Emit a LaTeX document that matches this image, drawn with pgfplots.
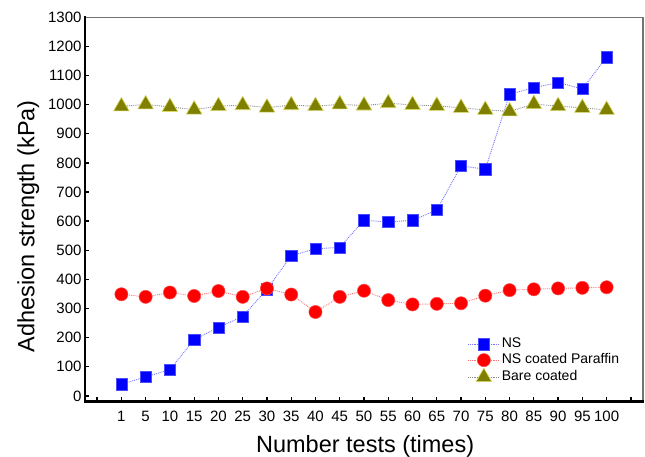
\documentclass[border=0pt]{standalone}
\usepackage{fontspec}
\setmainfont{Liberation Sans}
\usepackage{pgfplots}
\pgfplotsset{compat=1.18}
\definecolor{nsblue}{RGB}{0,0,255}
\definecolor{nsred}{RGB}{255,0,0}
\definecolor{bareolive}{RGB}{128,128,0}
\begin{document}
\begin{tikzpicture}
\path[use as bounding box] (-85pt,-55.3pt) rectangle (560pt,401.7pt);
\begin{axis}[
  at={(0,0)}, anchor=south west,
  width=558pt, height=384.4pt, scale only axis,
  xmin=-1.5, xmax=21.5, ymin=-20, ymax=1300,
  xtick={-1,0,...,21},
  xticklabels={{},1,5,10,15,20,25,30,35,40,45,50,55,60,65,70,75,80,85,90,95,100,{}},
  ytick={0,100,...,1300},
  tick align=inside, xtick pos=bottom, ytick pos=left,
  major tick length=4.5pt,
  tick style={line width=1.3pt, black},
  axis line style={line width=1.2pt, black!55},
  /pgf/number format/assume math mode=true,
  ticklabel style={font=\fontsize{15}{16}\selectfont},
  xticklabel style={anchor=base, yshift=-20pt},
  yticklabel style={/pgf/number format/1000 sep={}},
  every axis x label/.style={at={(rel axis cs:0.502,-0.1316)}, anchor=base},
  every axis y label/.style={at={(rel axis cs:-0.0909,0.456)}, rotate=90, anchor=base},
  xlabel={Number tests (times)},
  ylabel={Adhesion strength (kPa)},
  label style={font=\fontsize{23.5}{26}\selectfont},
  legend style={at={(rel axis cs:0.685,0.171)}, anchor=north west, draw=none, fill=none,
    inner sep=0pt, row sep=0pt, font=\fontsize{14}{15}\selectfont,
    nodes={text height=10pt, text depth=3pt, inner sep=1.5pt}},
  legend cell align=left,
  legend image code/.code={\draw[mark repeat=2,mark phase=2] plot coordinates {(0pt,0pt)(16pt,0pt)(32pt,0pt)};},
  clip=false,
  after end axis/.code={
    \draw[line width=2.6pt, black, line cap=rect] (rel axis cs:0,1) -- (rel axis cs:0,0) -- (rel axis cs:1,0);
  },
]
\addplot[color=nsblue!55, densely dotted, line width=0.9pt,
  mark=square*, mark size=5.6pt, mark options={solid, fill=nsblue, draw=nsblue!70, line width=0.5pt}]
coordinates {(0,40)(1,65)(2,90)(3,193)(4,235)(5,273)(6,366)(7,481)(8,505)(9,510)
(10,603)(11,597)(12,603)(13,638)(14,790)(15,778)(16,1036)(17,1058)(18,1076)(19,1054)(20,1163)};
\addlegendentry{NS}
\addplot[color=nsred!55, densely dotted, line width=0.9pt,
  mark=*, mark size=6.6pt, mark options={solid, fill=nsred, draw=nsred!70, line width=0.5pt}]
coordinates {(0,349)(1,340)(2,355)(3,343)(4,360)(5,340)(6,369)(7,348)(8,288)(9,340)
(10,361)(11,329)(12,314)(13,316)(14,318)(15,344)(16,363)(17,366)(18,369)(19,371)(20,373)};
\addlegendentry{NS coated Paraffin}
\addplot[color=black!45, densely dotted, line width=0.9pt,
  mark=triangle*, mark size=9pt, mark options={solid, fill=bareolive, draw=bareolive!50!yellow!60!white, line width=0.6pt}]
coordinates {(0,994)(1,1001)(2,992)(3,983)(4,995)(5,998)(6,990)(7,998)(8,995)(9,1001)
(10,997)(11,1005)(12,999)(13,996)(14,989)(15,982)(16,977)(17,1002)(18,995)(19,989)(20,982)};
\addlegendentry{Bare coated}
\end{axis}
\end{tikzpicture}
\end{document}
